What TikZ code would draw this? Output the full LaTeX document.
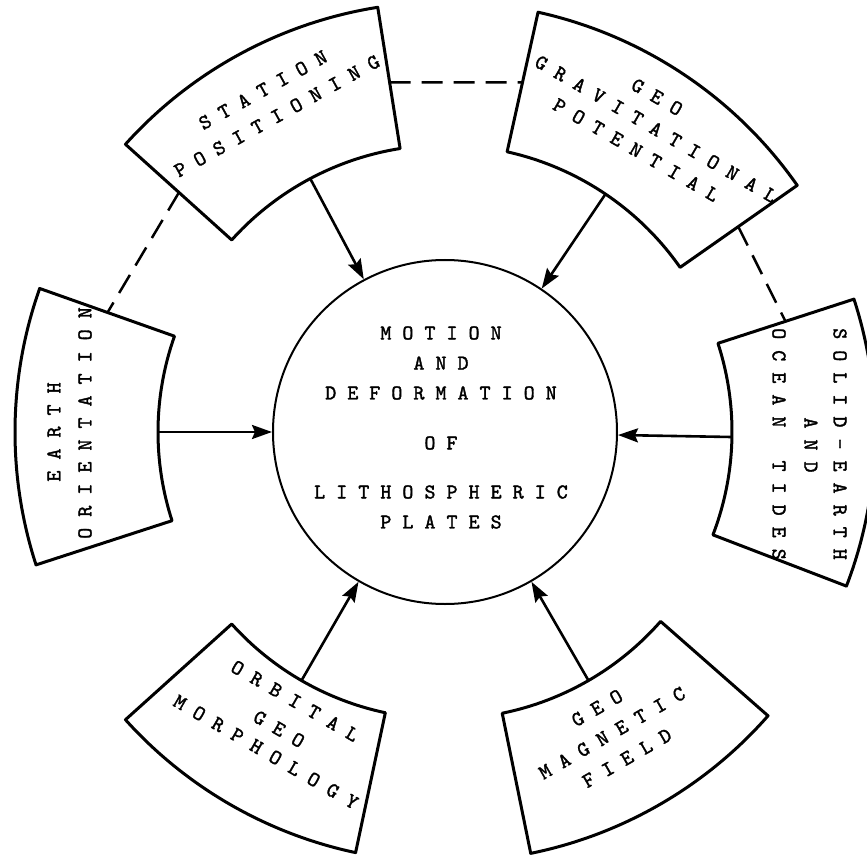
\documentclass[tikz,border=0pt]{standalone}
\usepackage{fontspec}
\newfontfamily\typer{lmmono10-regular.otf}[FakeBold=1.6]
\usetikzlibrary{arrows.meta}

\begin{document}
\begin{tikzpicture}[
  x=1pt, y=1pt,
  sector/.style={draw=black, line width=3pt, line join=round},
  hub/.style={circle, draw=black, line width=2pt, minimum size=344pt, inner sep=0pt},
  lbl/.style={font=\typer\fontsize{21pt}{24pt}\selectfont, inner sep=0pt},
  arr/.style={-{Stealth[length=20pt, width=14pt, inset=3pt]}, line width=2.6pt},
  link/.style={line width=2.5pt, dash pattern=on 21pt off 11pt}
]
\useasboundingbox (-445,-422) rectangle (422,432);

% centre
\node[hub] (plates) at (0,0) {};
\node[lbl] (c1) at (-4,99) {M O T I O N};
\node[lbl] (c2) at (-4,69) {A N D};
\node[lbl] (c3) at (-4,39) {D E F O R M A T I O N};
\node[lbl] (c4) at (-4,-11) {O F};
\node[lbl] (c5) at (-4,-60) {L I T H O S P H E R I C};
\node[lbl] (c6) at (-4,-90) {P L A T E S};

% boxes
\draw[sector] (99:287) arc[start angle=99, end angle=138, radius=287] -- (138:430) arc[start angle=138, end angle=99, radius=430] -- cycle;
\draw[sector] (35:287) arc[start angle=35, end angle=77.5, radius=287] -- (77.5:430) arc[start angle=77.5, end angle=35, radius=430] -- cycle;
\draw[sector] (160.5:287) arc[start angle=160.5, end angle=198, radius=287] -- (198:430) arc[start angle=198, end angle=160.5, radius=430] -- cycle;
\draw[sector] (-21:287) arc[start angle=-21, end angle=18, radius=287] -- (18:430) arc[start angle=18, end angle=-21, radius=430] -- cycle;
\draw[sector] (222:287) arc[start angle=222, end angle=258, radius=287] -- (258:430) arc[start angle=258, end angle=222, radius=430] -- cycle;
\draw[sector] (-78.5:287) arc[start angle=-78.5, end angle=-41.3, radius=287] -- (-41.3:430) arc[start angle=-41.3, end angle=-78.5, radius=430] -- cycle;

% box texts
\node[lbl, rotate=29] (sta1) at (-182,342) {S T A T I O N};
\node[lbl, rotate=29] (sta2) at (-168,316) {P O S I T I O N I N G};
\node[lbl, rotate=-30] (grv1) at (212,335) {G E O};
\node[lbl, rotate=-30] (grv2) at (211,303) {G R A V I T A T I O N A L};
\node[lbl, rotate=-30] (grv3) at (191,282) {P O T E N T I A L};
\node[lbl, rotate=90] (ear1) at (-391,0) {E A R T H};
\node[lbl, rotate=90] (ear2) at (-360,9) {O R I E N T A T I O N};
\node[lbl, rotate=-90] (sol1) at (395,-12) {S O L I D - E A R T H};
\node[lbl, rotate=-90] (sol2) at (366,-13) {A N D};
\node[lbl, rotate=-90] (sol3) at (334,-12) {O C E A N\ \ \ T I D E S};
\node[lbl, rotate=-30] (orb1) at (-150,-269) {O R B I T A L};
\node[lbl, rotate=-30] (orb2) at (-166,-297) {G E O};
\node[lbl, rotate=-30] (orb3) at (-179,-320) {M O R P H O L O G Y};
\node[lbl, rotate=30] (mag1) at (152,-276) {G E O};
\node[lbl, rotate=30] (mag2) at (167,-301) {M A G N E T I C};
\node[lbl, rotate=30] (mag3) at (182,-326) {F I E L D};

% arrow feet on the inner arcs
\coordinate (station) at (118:287);
\coordinate (gravity) at (56:287);
\coordinate (earth) at (180:287);
\coordinate (tides) at (-1:287);
\coordinate (orbital) at (240:287);
\coordinate (magnetic) at (-60:287);
\draw[arr] (station) -- (plates);
\draw[arr] (gravity) -- (plates);
\draw[arr] (earth) -- (plates);
\draw[arr] (tides) -- (plates);
\draw[arr] (orbital) -- (plates);
\draw[arr] (magnetic) -- (plates);

% dashed links between boxes
\coordinate (sta-r) at (99:354);
\coordinate (grv-l) at (77.5:358);
\coordinate (sta-l) at (138:358);
\coordinate (ear-t) at (160.5:358);
\coordinate (grv-r) at (35:358);
\coordinate (sol-t) at (18:358);
\draw[link] (sta-r) -- (grv-l);
\draw[link] (sta-l) -- (ear-t);
\draw[link] (grv-r) -- (sol-t);
\end{tikzpicture}
\end{document}
